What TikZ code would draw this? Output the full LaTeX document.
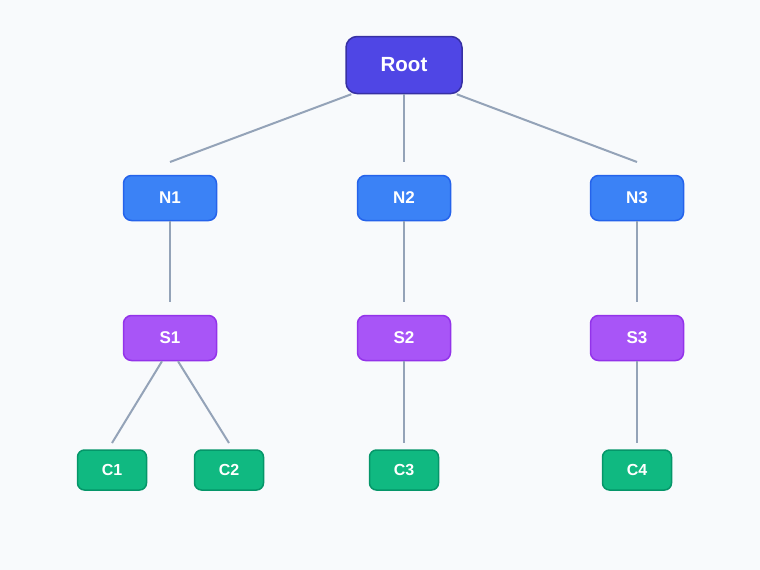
\documentclass[tikz,border=0pt]{standalone}
\usepackage{fontspec}
\setmainfont{Liberation Sans}
\definecolor{bgcol}{HTML}{F8FAFC}
\definecolor{linecol}{HTML}{94A3B8}
\definecolor{rootfill}{HTML}{4F46E5}
\definecolor{rootline}{HTML}{3730A3}
\definecolor{nfill}{HTML}{3B82F6}
\definecolor{nline}{HTML}{2563EB}
\definecolor{sfill}{HTML}{A855F7}
\definecolor{sline}{HTML}{9333EA}
\definecolor{cfill}{HTML}{10B981}
\definecolor{cline}{HTML}{059669}

\begin{document}
\begin{tikzpicture}[x=1pt, y=-1pt,
    box/.style={draw, line width=1.5pt, rounded corners=8pt, text=white, inner sep=0pt},
    rootbox/.style={box, fill=rootfill, draw=rootline, minimum width=116pt, minimum height=57pt, rounded corners=11pt, font=\bfseries\fontsize{20.5}{24}\selectfont},
    nbox/.style={box, fill=nfill, draw=nline, minimum width=93pt, minimum height=45pt, font=\bfseries\fontsize{17}{20}\selectfont},
    sbox/.style={box, fill=sfill, draw=sline, minimum width=93pt, minimum height=45pt, font=\bfseries\fontsize{17}{20}\selectfont},
    cbox/.style={box, fill=cfill, draw=cline, minimum width=69pt, minimum height=40pt, rounded corners=7pt, font=\bfseries\fontsize{16}{19}\selectfont},
    edge/.style={draw=linecol, line width=2pt}]
  \fill[bgcol] (0,0) rectangle (760,570);
  \useasboundingbox (0,0) rectangle (760,570);

  \node[rootbox] (root) at (404,65) {Root};
  \node[nbox] (n1) at (170,198) {N1};
  \node[nbox] (n2) at (404,198) {N2};
  \node[nbox] (n3) at (637,198) {N3};
  \node[sbox] (s1) at (170,338) {S1};
  \node[sbox] (s2) at (404,338) {S2};
  \node[sbox] (s3) at (637,338) {S3};
  \node[cbox] (c1) at (112,470) {C1};
  \node[cbox] (c2) at (229,470) {C2};
  \node[cbox] (c3) at (404,470) {C3};
  \node[cbox] (c4) at (637,470) {C4};

  \coordinate (n1in) at (170,162);
  \coordinate (n2in) at (404,162);
  \coordinate (n3in) at (637,162);
  \coordinate (s1in) at (170,302);
  \coordinate (s2in) at (404,302);
  \coordinate (s3in) at (637,302);
  \coordinate (c1in) at (112,443);
  \coordinate (c2in) at (229,443);
  \coordinate (c3in) at (404,443);
  \coordinate (c4in) at (637,443);

  \draw[edge] ([xshift=6pt]root.south west) -- (n1in);
  \draw[edge] (root) -- (n2in);
  \draw[edge] ([xshift=-6pt]root.south east) -- (n3in);
  \draw[edge] (n1) -- (s1in);
  \draw[edge] (n2) -- (s2in);
  \draw[edge] (n3) -- (s3in);
  \draw[edge] ([xshift=-8pt]s1.south) -- (c1in);
  \draw[edge] ([xshift=8pt]s1.south) -- (c2in);
  \draw[edge] (s2) -- (c3in);
  \draw[edge] (s3) -- (c4in);
\end{tikzpicture}
\end{document}
